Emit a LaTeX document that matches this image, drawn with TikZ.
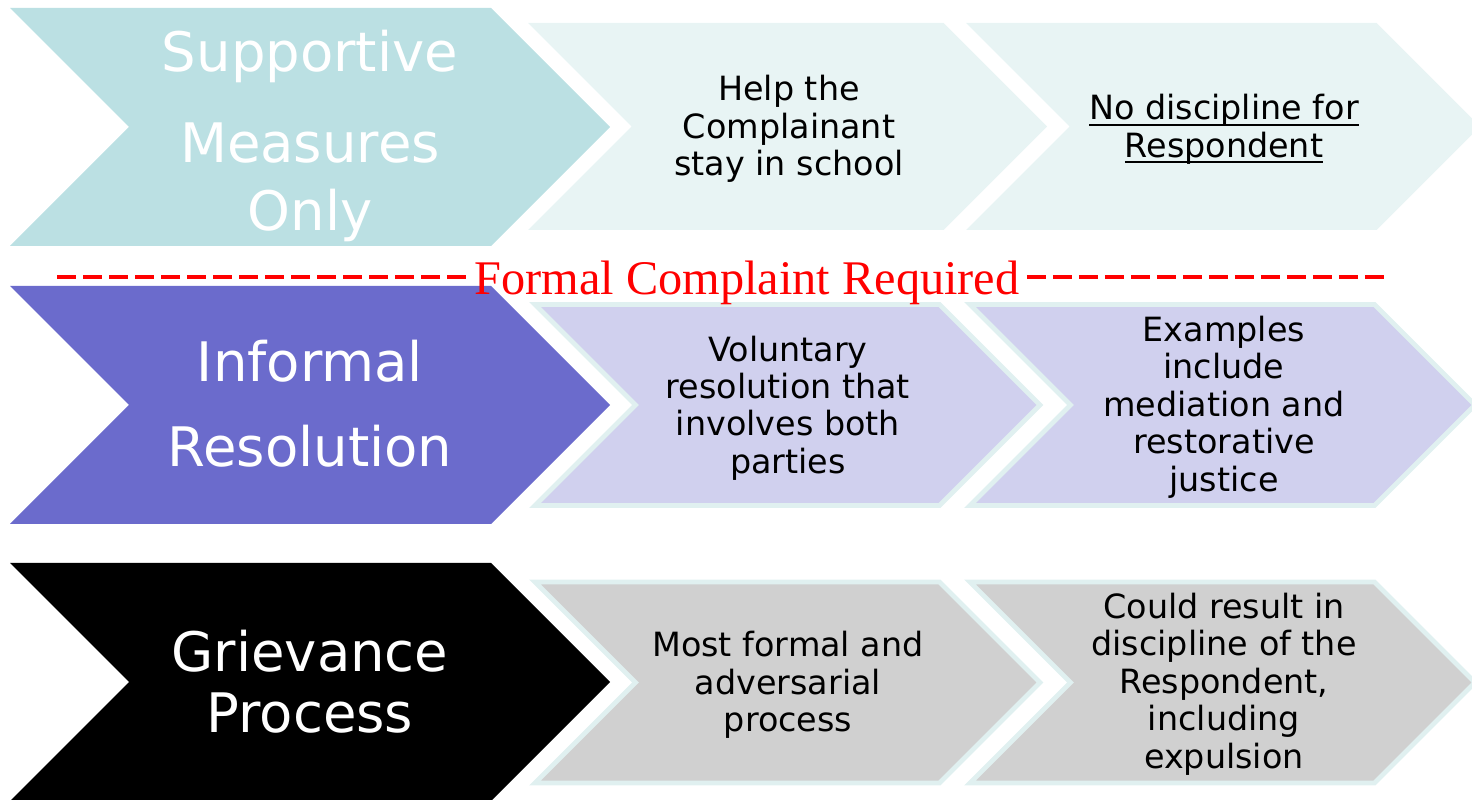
\documentclass[tikz,border=0pt]{standalone}
\usepackage{fontspec}
\setmainfont{DejaVu Sans}
\newfontfamily\serifred{Liberation Serif}
\definecolor{supportA}{RGB}{187,224,227}
\definecolor{supportB}{RGB}{232,244,244}
\definecolor{informalA}{RGB}{107,107,204}
\definecolor{informalB}{RGB}{208,208,238}
\definecolor{grievanceB}{RGB}{208,208,208}
\definecolor{rimcol}{RGB}{224,240,240}
\def\chevron[#1](#2,#3)(#4:#5){\path[#1] (#2,#3) -- ({#4-#5/2},#3) -- (#4,{#3+#5/2}) -- ({#4-#5/2},{#3+#5}) -- (#2,{#3+#5}) -- ({#2+#5/2},{#3+#5/2}) -- cycle;}
\newcommand\undertext[1]{\leavevmode\setbox0\hbox{#1}\rlap{\rule[-3.3pt]{\wd0}{1.1pt}}\box0}

\begin{document}
\begin{tikzpicture}[x=0.02cm, y=-0.02cm,
		bigtext/.style={font=\fontsize{31}{#1}\selectfont, text=white, align=center},
		smalltext/.style={font=\fontsize{19}{21.3}\selectfont, text=black, align=center},
		rim/.style={draw=rimcol, line width=2.8pt, line join=miter},
		dashline/.style={draw=red, line width=2.3pt, dash pattern=on 10.8pt off 4pt}]
			%%%%% START %%%%%
			
			\useasboundingbox (0,0) rectangle (1472,800);
			\clip (0,0) rectangle (1472,800);
			
			% supportive measures
			\chevron[fill=supportA](10,8)(610:238)
			\chevron[fill=supportB](528,23)(1047:207)
			\chevron[fill=supportB](966,23)(1480:207)
			
			\node[bigtext=45] (supportive) at (310,136) {Supportive\\[6.8pt]Measures\\[-6.3pt]Only};
			\node[smalltext] (helpcomp) at (789,129) {Help the\\Complainant\\stay in school};
			\node[smalltext] (nodisc) at (1224,129.5) {\undertext{No discipline for}\\\undertext{Respondent}};
			
			% informal resolution
			\chevron[fill=informalA](10,286)(610:238)
			\chevron[fill=informalB, rim](535,304.5)(1040:201)
			\chevron[fill=informalB, rim](970,304.5)(1475:201)
			
			\node[bigtext=48.4] (informal) at (310,403.5) {Informal\\Resolution};
			\node[smalltext] (voluntary) at (788,408) {Voluntary\\resolution that\\involves both\\parties};
			\node[smalltext] (examples) at (1224,407) {Examples\\include\\mediation and\\restorative\\justice};
			
			% grievance process
			\chevron[fill=black](10,563)(610:238)
			\chevron[fill=grievanceB, rim](535,582)(1040:201)
			\chevron[fill=grievanceB, rim](970,582)(1475:201)
			
			\node[bigtext=34.7] (grievance) at (310,682) {Grievance\\Process};
			\node[smalltext] (mostformal) at (788,685) {Most formal and\\adversarial\\process};
			\node[smalltext] (couldresult) at (1224,684) {Could result in\\discipline of the\\Respondent,\\including\\expulsion};
			
			% formal complaint line
			\node[font=\serifred\fontsize{27.5}{30}\selectfont, text=red, anchor=base, inner sep=4pt] (formal) at (747,295) {Formal Complaint Required};
			\coordinate (dashL) at (57,277);
			\coordinate (dashR) at (1390,277);
			\draw[dashline] (dashL) -- (dashL -| formal.west);
			\draw[dashline] (formal.east |- dashR) -- (dashR);
			
			%%%%% END %%%%%
		\end{tikzpicture}
\end{document}
